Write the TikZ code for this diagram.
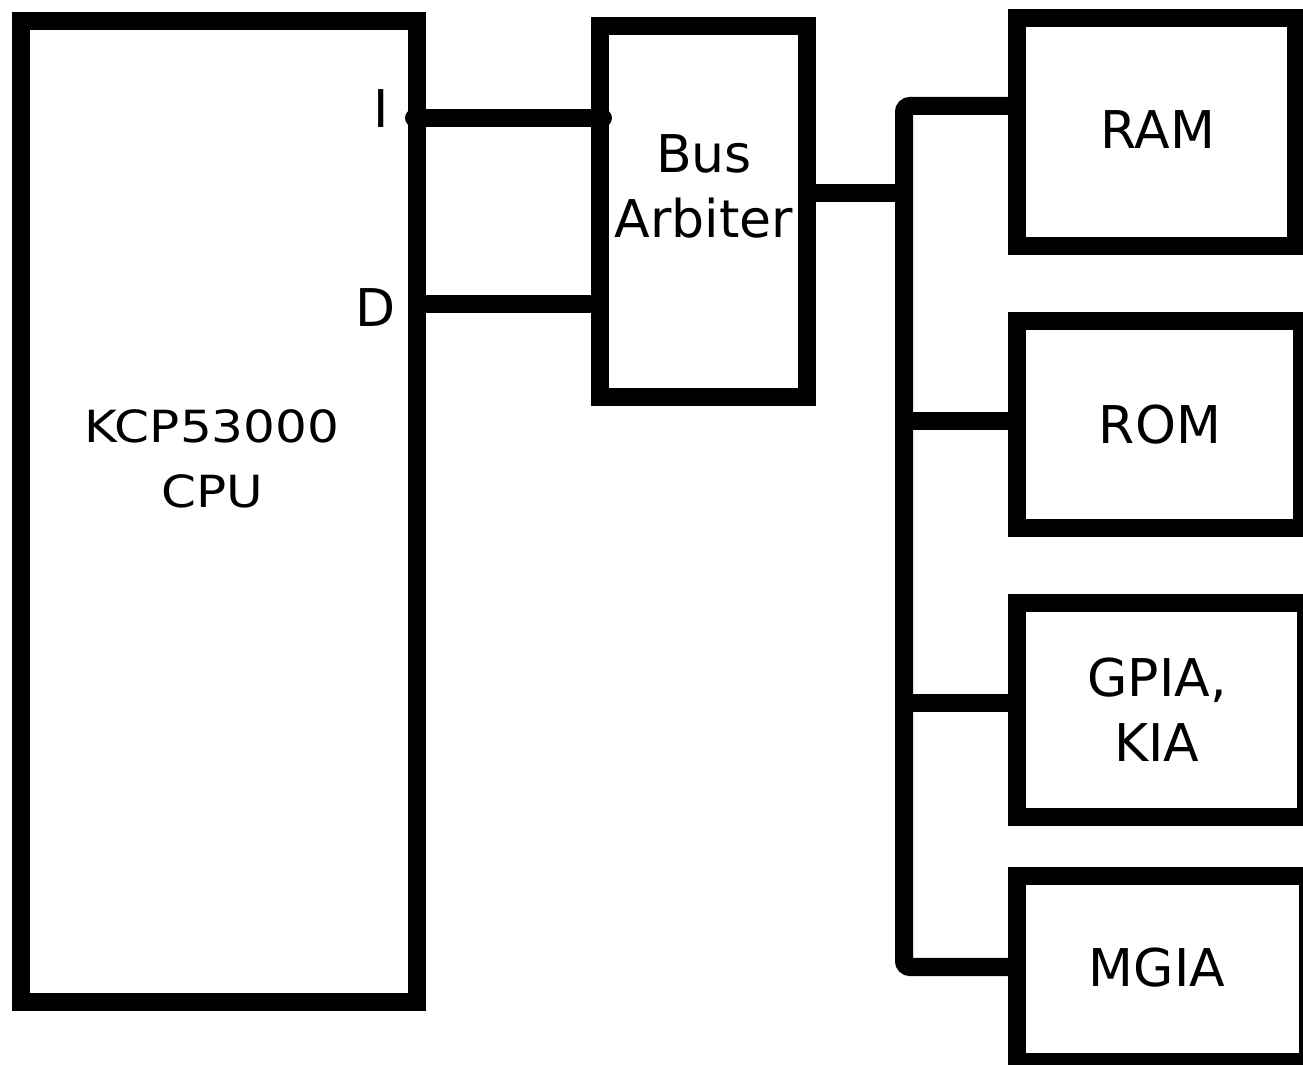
\documentclass[tikz,border=0pt]{standalone}
\usepackage{fontspec}
\setmainfont{DejaVu Sans}
\begin{document}
\begin{tikzpicture}[x=0.01cm,y=-0.01cm,
  box/.style={draw, line width=0.18cm, rectangle, inner sep=0pt},
  wire/.style={line width=0.18cm},
  lbl/.style={font=\fontsize{14.8pt}{18.6pt}\selectfont, inner sep=0pt, align=center, anchor=base},
  cpulbl/.style={font=\fontsize{12.6pt}{18.5pt}\selectfont\addfontfeature{FakeStretch=1.13}, inner sep=0pt, align=center, anchor=base}
]
\useasboundingbox (0,0) rectangle (1303,1065);
\clip (0,0) rectangle (1303,1065);

% boxes
\node[box, minimum width=3.96cm, minimum height=9.81cm] (cpu) at (219,511.5) {};
\node[box, minimum width=2.07cm, minimum height=3.71cm] (arb) at (703.5,211.5) {};
\node[box, minimum width=2.79cm, minimum height=2.28cm] (ram) at (1156.5,132) {};
\node[box, minimum width=2.85cm, minimum height=2.07cm] (rom) at (1159.5,424.5) {};
\node[box, minimum width=2.89cm, minimum height=2.14cm] (gpia) at (1161.5,710) {};
\node[box, minimum width=2.91cm, minimum height=1.86cm] (mgia) at (1162.5,969) {};

% connection points
\coordinate (pinI) at (417,118);
\coordinate (pinD) at (417,304);
\coordinate (arbI) at (pinI -| arb.west);
\coordinate (arbout) at (807,193);
\coordinate (bustop) at (904,106);
\coordinate (busbot) at (904,967);
\coordinate (tapA) at (904,193);
\coordinate (tapR) at (904,421);
\coordinate (tapG) at (904,703);

% connectors
\draw[wire, line cap=round] ([xshift=-0.03cm]pinI) -- ([xshift=0.12cm]arbI);
\draw[wire] (pinD) -- (pinD -| arb.west);
\draw[wire] (arbout -| arb.east) -- (tapA);
\draw[wire, rounded corners=0.06cm] (bustop -| ram.west) -- (bustop) -- (busbot) -- (busbot -| mgia.west);
\draw[wire] (tapR) -- (tapR -| rom.west);
\draw[wire] (tapG) -- (tapG -| gpia.west);

% labels (base = baseline of last line)
\node[cpulbl] (cputxt) at (212,508) {KCP53000\\CPU};
\node[lbl] (ltxtI) at (381,128) {I};
\node[lbl] (ltxtD) at (376,327) {D};
\node[lbl] (arbtxt) at (704,238) {Bus\\Arbiter};
\node[lbl] (ramtxt) at (1158,149) {RAM};
\node[lbl] (romtxt) at (1160,444) {ROM};
\node[lbl] (gpiatxt) at (1157,762) {GPIA,\\KIA};
\node[lbl] (mgiatxt) at (1157,987) {MGIA};
\end{tikzpicture}
\end{document}
